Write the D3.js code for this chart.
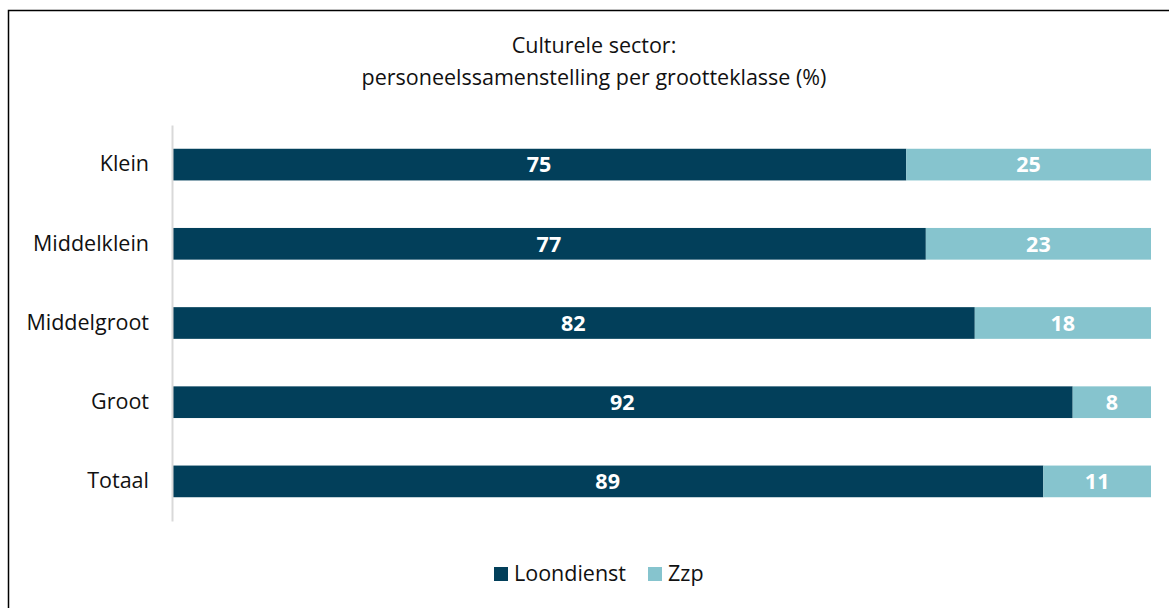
<!DOCTYPE html>
<html><head><meta charset="utf-8">
<script src="https://cdn.jsdelivr.net/npm/d3@7"></script>
<style>body{margin:0;background:#fff;}svg{display:block;font-family:"Open Sans",sans-serif;}</style>
</head><body>
<svg id="c" width="1169" height="608"></svg>
<script>
const categories = ["Klein","Middelklein","Middelgroot","Groot","Totaal"];
const loondienst = [75,77,82,92,89];
const zzp = [25,23,18,8,11];
const seriesNames = ["Loondienst","Zzp"];
const colors = ["#023F5A","#86C4CE"];
const titleLines = ["Culturele sector:","personeelssamenstelling per grootteklasse (%)"];

const FONT = "'Open Sans', sans-serif";
const FS = 21.5;
const svg = d3.select("#c");
svg.append("rect").attr("x",8.5).attr("y",10.5).attr("width",1170).attr("height",610)
  .attr("fill","none").attr("stroke","#000").attr("stroke-width",1.5);

svg.selectAll("text.title").data(titleLines).enter().append("text")
  .attr("x",594).attr("y",(d,i)=>53+i*32).attr("text-anchor","middle")
  .attr("font-size",FS).attr("fill","#111").text(d=>d);

const x = d3.scaleLinear().domain([0,100]).range([172,1151]);
const y = d3.scaleBand().domain(categories).range([125,521]).paddingInner(0.6).paddingOuter(0.3);

const data = categories.map((c,i)=>({cat:c, Loondienst:loondienst[i], Zzp:zzp[i]}));
const stack = d3.stack().keys(seriesNames)(data);

const g = svg.append("g");
stack.forEach((s,si)=>{
  g.selectAll(null).data(s).enter().append("rect")
    .attr("x",d=>x(d[0])).attr("width",d=>x(d[1])-x(d[0]))
    .attr("y",d=>y(d.data.cat)).attr("height",y.bandwidth())
    .attr("fill",colors[si]);
  g.selectAll(null).data(s).enter().append("text")
    .attr("x",d=>(x(d[0])+x(d[1]))/2).attr("y",d=>y(d.data.cat)+y.bandwidth()/2)
    .attr("dy","0.36em").attr("text-anchor","middle").attr("font-weight","bold")
    .attr("font-size",FS).attr("fill","#fff").text(d=>d[1]-d[0]);
});

const yAxis = svg.append("g").attr("transform","translate(172,0)")
  .call(d3.axisLeft(y).tickSize(0).tickPadding(23));
yAxis.select(".domain").attr("stroke","#d9d9d9").attr("stroke-width",2);
yAxis.selectAll("text").attr("font-size",FS).attr("fill","#111").attr("font-family",FONT);

const legX = [494,648];
seriesNames.forEach((n,i)=>{
  svg.append("rect").attr("x",legX[i]).attr("y",567).attr("width",14).attr("height",14).attr("fill",colors[i]);
  svg.append("text").attr("x",legX[i]+20).attr("y",581).attr("font-size",FS).attr("fill","#111").text(n);
});
</script>
</body></html>
